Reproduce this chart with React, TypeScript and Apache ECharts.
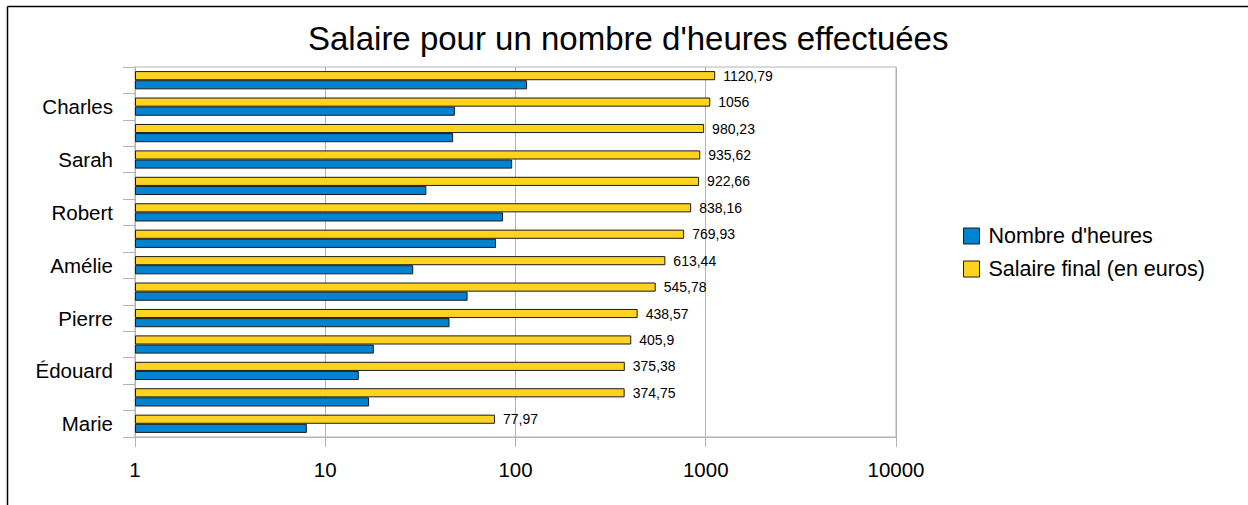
import React, { useEffect, useRef } from "react";
import * as echarts from "echarts";

const categories = ["Marie", "", "Édouard", "", "Pierre", "", "Amélie", "", "Robert", "", "Sarah", "", "Charles", ""];
const heures = [8, 17, 15, 18, 45, 56, 29, 79, 86, 34, 96, 47, 48, 115];
const salaire = [77.97, 374.75, 375.38, 405.9, 438.57, 545.78, 613.44, 769.93, 838.16, 922.66, 935.62, 980.23, 1056, 1120.79];
const xTicks = [1, 10, 100, 1000, 10000];
const seriesNames = ["Nombre d'heures", "Salaire final (en euros)"];
const titleText = "Salaire pour un nombre d'heures effectuées";

const FONT = "'Liberation Sans', Arial, sans-serif";

export default function App() {
  const ref = useRef<HTMLDivElement>(null);
  useEffect(() => {
    if (!ref.current) return;
    const chart = echarts.init(ref.current, undefined, { renderer: "svg" });
    chart.setOption({
      animation: false,
      backgroundColor: "#ffffff",
      textStyle: { fontFamily: FONT, color: "#000" },
      title: {
        text: titleText,
        left: 308,
        top: 22,
        padding: 0,
        textStyle: { fontFamily: FONT, fontSize: 33, fontWeight: "normal", color: "#000" },
      },
      legend: {
        orient: "vertical",
        left: 963,
        top: 225,
        padding: 0,
        itemWidth: 16,
        itemHeight: 16,
        itemGap: 11,
        icon: "rect",
        data: seriesNames,
        textStyle: { fontFamily: FONT, fontSize: 21.5, color: "#000", padding: [0, 0, 0, 4] },
        itemStyle: { borderColor: "#1a1a1a", borderWidth: 1 },
      },
      graphic: [
        { type: "line", shape: { x1: 7.5, y1: 6.5, x2: 1248, y2: 6.5 }, style: { stroke: "#000", lineWidth: 1.5 } },
        { type: "line", shape: { x1: 7.5, y1: 6.5, x2: 7.5, y2: 505 }, style: { stroke: "#000", lineWidth: 1.5 } },
      ],
      grid: {
        left: 135,
        right: 352,
        top: 67,
        bottom: 68,
        show: true,
        borderColor: "#b3b3b3",
        borderWidth: 1,
        containLabel: false,
      },
      xAxis: {
        type: "log",
        logBase: 10,
        min: xTicks[0],
        max: xTicks[xTicks.length - 1],
        axisLine: { show: true, lineStyle: { color: "#b3b3b3" } },
        axisTick: { show: true, length: 10, lineStyle: { color: "#b3b3b3" } },
        splitLine: { show: true, lineStyle: { color: "#b3b3b3" } },
        minorTick: { show: false },
        axisLabel: {
          fontFamily: FONT,
          fontSize: 20.5,
          color: "#000",
          margin: 22,
          formatter: (v: number) => String(v),
        },
      },
      yAxis: {
        type: "category",
        data: categories,
        axisLine: { show: true, lineStyle: { color: "#b3b3b3" } },
        axisTick: { show: true, length: 12, interval: 0, lineStyle: { color: "#b3b3b3" } },
        axisLabel: { fontFamily: FONT, fontSize: 20.5, color: "#000", margin: 22, interval: 0, padding: [3, 0, 0, 0] },
        splitLine: { show: false },
      },
      series: [
        {
          name: seriesNames[1],
          type: "bar",
          data: salaire,
          barGap: "0%",
          barCategoryGap: "31%",
          itemStyle: { color: "#ffd320", borderColor: "#1a1a1a", borderWidth: 1 },
          label: {
            show: true,
            position: "right",
            distance: 8,
            fontFamily: FONT,
            fontSize: 14,
            color: "#000",
            formatter: (p: any) => String(p.value).replace(".", ","),
          },
        },
        {
          name: seriesNames[0],
          type: "bar",
          data: heures,
          barGap: "0%",
          barCategoryGap: "31%",
          itemStyle: { color: "#0084d1", borderColor: "#1a1a1a", borderWidth: 1 },
        },
      ],
    });
    return () => chart.dispose();
  }, []);
  return (
    <div
      ref={ref}
      style={{ position: "fixed", left: 0, top: 0, width: 1248, height: 505, background: "#fff" }}
    />
  );
}
